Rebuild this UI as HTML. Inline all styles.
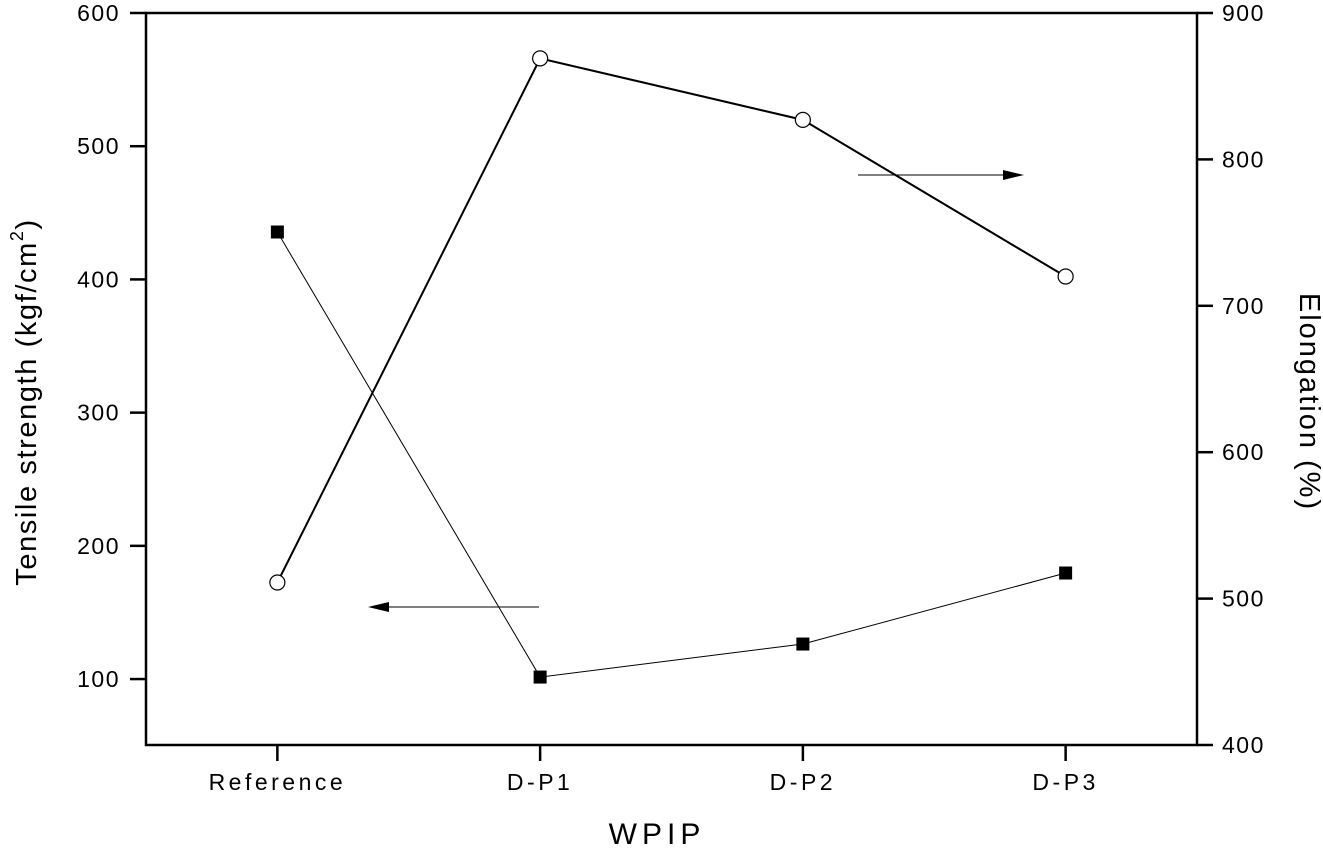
<!DOCTYPE html>
<html><head><meta charset="utf-8"><style>
html,body{margin:0;padding:0;background:#fff;}
svg{display:block;font-family:"Liberation Sans",Arial,sans-serif;}
</style></head><body>
<svg id="chart" width="1323" height="849" viewBox="0 0 1323 849"></svg>
<script>
const categories = ["Reference","D-P1","D-P2","D-P3"];
const tensileValues = [435.6, 101.5, 126.3, 179.6];
const elongationValues = [511, 869, 827, 720];
const leftTicks = [100,200,300,400,500,600];
const rightTicks = [400,500,600,700,800,900];

const L=146,R=1197,T=13,B=745;
const xs = i => L + (i+0.5)*(R-L)/categories.length;
const yL = v => B - (v-50.5)/(600-50.5)*(B-T);
const yR = v => B - (v-400)/(900-400)*(B-T);
const NS="http://www.w3.org/2000/svg";
const svg=document.getElementById('chart');
function mk(tag,attrs,parent){const e=document.createElementNS(NS,tag);for(const k in attrs)e.setAttribute(k,attrs[k]);(parent||svg).appendChild(e);return e;}

let frame=mk('rect',{x:L,y:T,width:R-L,height:B-T,fill:'none',stroke:'#000','stroke-width':2.5});



leftTicks.forEach(v=>{
  const y=yL(v);
  const t=mk('line',{x1:L-16,x2:L,y1:y,y2:y,stroke:'#000','stroke-width':2.5});
  
  
  const tx=mk('text',{x:L-26,y:y+8,'text-anchor':'end','font-size':23,'letter-spacing':1.5});
  tx.textContent=v;
  
  
});
rightTicks.forEach(v=>{
  const y=yR(v);
  const t=mk('line',{x1:R,x2:R+16,y1:y,y2:y,stroke:'#000','stroke-width':2.5});
  
  
  const tx=mk('text',{x:R+25,y:y+8,'text-anchor':'start','font-size':23,'letter-spacing':1.5});
  tx.textContent=v;
  
  
});
categories.forEach((c,i)=>{
  const x=xs(i);
  const t=mk('line',{x1:x,x2:x,y1:B,y2:B+16,stroke:'#000','stroke-width':2.5});
  
  
  const tx=mk('text',{x:x,y:B+45,'text-anchor':'middle','font-size':23,'letter-spacing':3.5});
  tx.textContent=c;
  
  
});

let p=mk('polyline',{points:tensileValues.map((v,i)=>xs(i)+','+yL(v)).join(' '),fill:'none',stroke:'#000','stroke-width':1});


tensileValues.forEach((v,i)=>{
  const r=mk('rect',{x:xs(i)-6.5,y:yL(v)-6.5,width:13,height:13,fill:'#000'});
  
  
});
let p2=mk('polyline',{points:elongationValues.map((v,i)=>xs(i)+','+yR(v)).join(' '),fill:'none',stroke:'#000','stroke-width':2});


elongationValues.forEach((v,i)=>{
  const c=mk('circle',{cx:xs(i),cy:yR(v),r:7.5,fill:'#fff',stroke:'#000','stroke-width':1.2});
  
  
});
</script>
<svg width="1323" height="849" style="position:absolute;left:0;top:0">
  <g>
    <line x1="539" y1="607" x2="385" y2="607" stroke="#000" stroke-width="1"/>
    <polygon points="368,607 389,602 389,612" fill="#000"/>
  </g>
  <g>
    <line x1="858" y1="175" x2="1005" y2="175" stroke="#000" stroke-width="1"/>
    <polygon points="1024,175 1003,170 1003,180" fill="#000"/>
  </g>
  <text x="657" y="844" text-anchor="middle" font-size="30" letter-spacing="5" font-family="Liberation Sans, sans-serif">WPIP</text>
  <text transform="translate(36,402) rotate(-90)" text-anchor="middle" font-size="29" letter-spacing="1.6" font-family="Liberation Sans, sans-serif">Tensile strength (kgf/cm<tspan font-size="18" dy="-13">2</tspan><tspan dy="13">)</tspan></text>
  <text transform="translate(1300,402) rotate(90)" text-anchor="middle" font-size="29" letter-spacing="2" font-family="Liberation Sans, sans-serif">Elongation (%)</text>
</svg>
</body></html>
